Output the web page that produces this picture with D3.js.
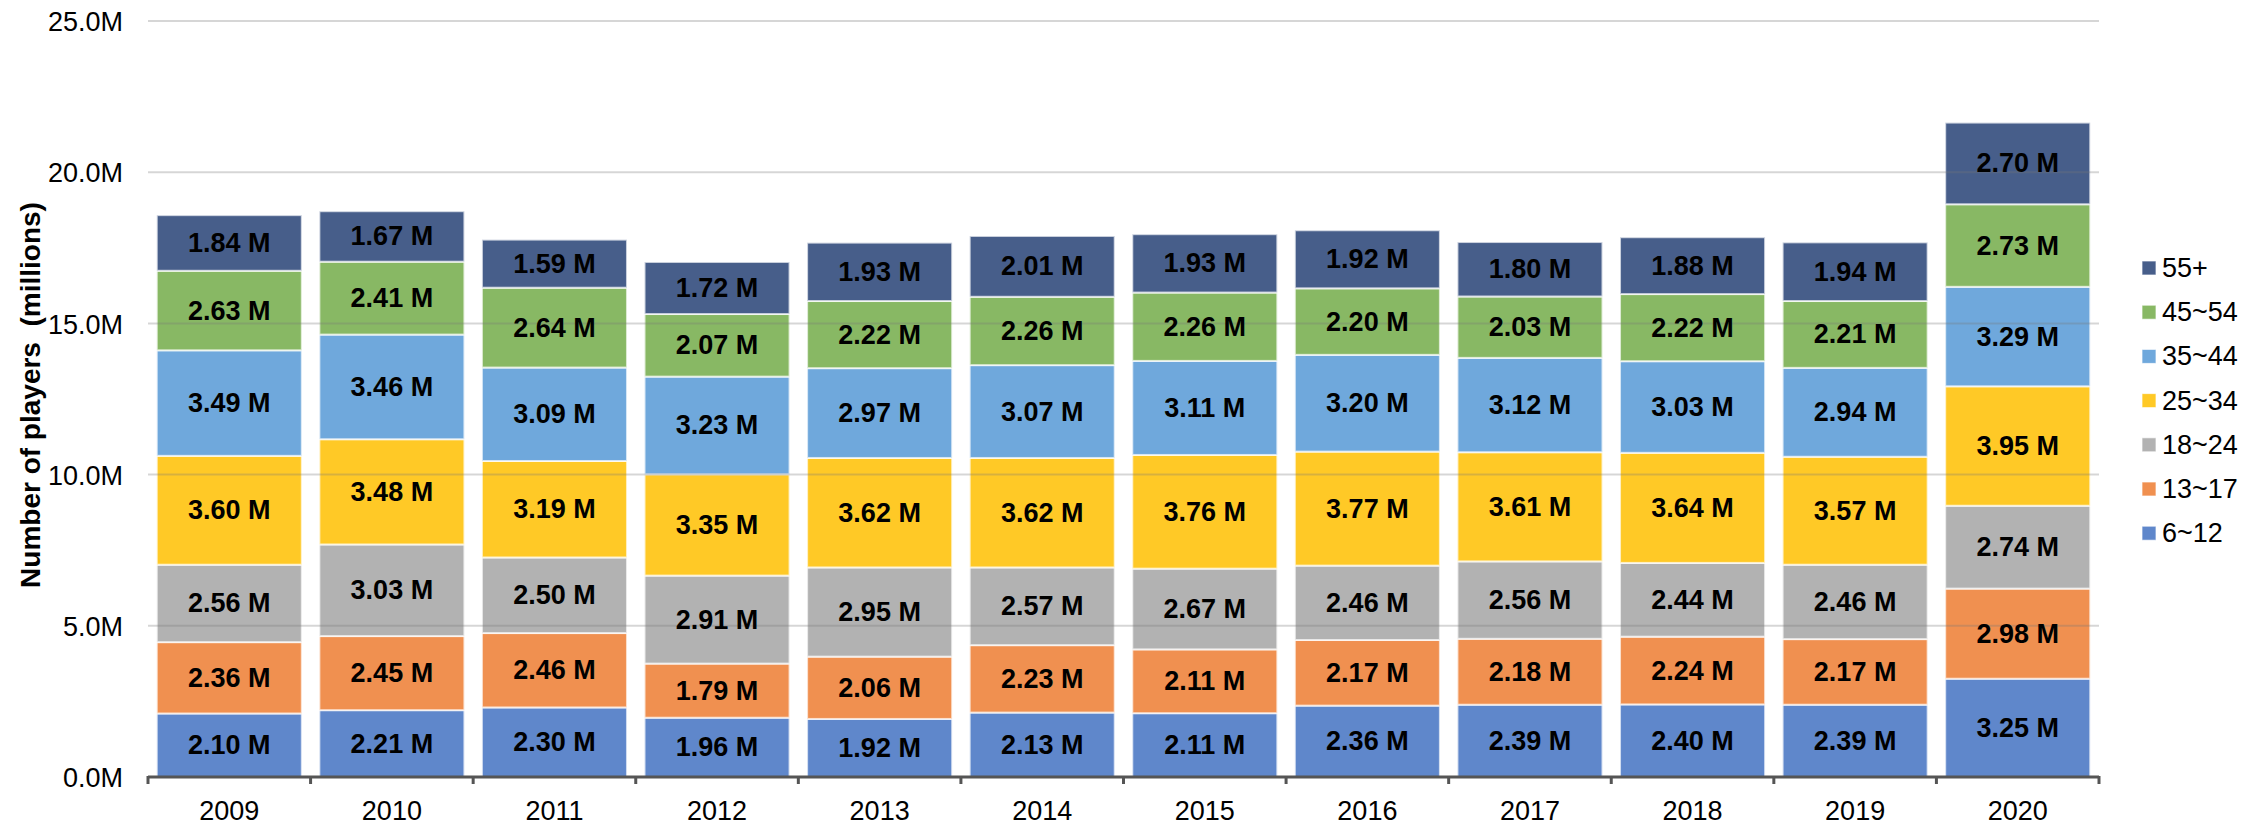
<!DOCTYPE html>
<html><head><meta charset="utf-8">
<script src="https://cdn.jsdelivr.net/npm/d3@7"></script>
<style>body{margin:0;background:#fff;} svg{display:block;font-family:"Liberation Sans",Arial,sans-serif;}</style>
</head><body>
<svg id="c" width="2267" height="825"></svg>
<script>
const years = ["2009","2010","2011","2012","2013","2014","2015","2016","2017","2018","2019","2020"];
const groups = ["6~12","13~17","18~24","25~34","35~44","45~54","55+"];
const colors = ["#5F87CB","#F09050","#B2B2B2","#FFC926","#6FA8DC","#88B864","#475E8A"];
const v6_12  = [2.10,2.21,2.30,1.96,1.92,2.13,2.11,2.36,2.39,2.40,2.39,3.25];
const v13_17 = [2.36,2.45,2.46,1.79,2.06,2.23,2.11,2.17,2.18,2.24,2.17,2.98];
const v18_24 = [2.56,3.03,2.50,2.91,2.95,2.57,2.67,2.46,2.56,2.44,2.46,2.74];
const v25_34 = [3.60,3.48,3.19,3.35,3.62,3.62,3.76,3.77,3.61,3.64,3.57,3.95];
const v35_44 = [3.49,3.46,3.09,3.23,2.97,3.07,3.11,3.20,3.12,3.03,2.94,3.29];
const v45_54 = [2.63,2.41,2.64,2.07,2.22,2.26,2.26,2.20,2.03,2.22,2.21,2.73];
const v55    = [1.84,1.67,1.59,1.72,1.93,2.01,1.93,1.92,1.80,1.88,1.94,2.70];
const yTicks = [0,5,10,15,20,25];

const series = [v6_12,v13_17,v18_24,v25_34,v35_44,v45_54,v55];
const rows = years.map((y,i)=>{const r={year:y}; groups.forEach((g,j)=>r[g]=series[j][i]); return r;});
const stacked = d3.stack().keys(groups)(rows);

const svg = d3.select("#c");
const x = d3.scaleBand().domain(years).range([148,2099]).paddingInner(0.108).paddingOuter(0.054);
const y = d3.scaleLinear().domain([0,25]).range([777,21]);

// bars
const layer = svg.append("g").selectAll("g").data(stacked).join("g").attr("fill",(d,i)=>colors[i]);
layer.selectAll("rect").data(d=>d).join("rect")
  .attr("x",d=>x(d.data.year)).attr("width",x.bandwidth())
  .attr("y",d=>y(d[1])).attr("height",d=>y(d[0])-y(d[1]))
  .attr("stroke","rgba(255,255,255,0.7)").attr("stroke-width",2);

// gridlines on top
svg.append("g").selectAll("line").data(yTicks.filter(t=>t>0)).join("line")
  .attr("x1",148).attr("x2",2099).attr("y1",d=>y(d)).attr("y2",d=>y(d))
  .attr("stroke","rgba(120,120,120,0.3)").attr("stroke-width",2);

// labels
stacked.forEach((s,i)=>{
  svg.append("g").selectAll("text").data(s).join("text")
    .attr("x",d=>x(d.data.year)+x.bandwidth()/2)
    .attr("y",d=>(y(d[0])+y(d[1]))/2)
    .attr("text-anchor","middle").attr("dominant-baseline","central")
    .attr("font-size",27).attr("font-weight","bold").attr("fill","#000")
    .text(d=>(d[1]-d[0]).toFixed(2)+" M");
});

// y axis labels
const ya = svg.append("g").attr("transform","translate(123,0)")
  .call(d3.axisLeft(y).tickValues(yTicks).tickSize(0).tickPadding(0).tickFormat(d=>d.toFixed(1)+"M"));
ya.select(".domain").remove();
ya.selectAll("text").attr("font-size",27).attr("fill","#000").attr("font-family","Liberation Sans, Arial, sans-serif").attr("dy","0.36em");

// x axis
const xa = svg.append("g").attr("transform","translate(0,777)")
  .call(d3.axisBottom(x).tickSize(0).tickPadding(24));
xa.select(".domain").attr("stroke","#555").attr("stroke-width",3).attr("d","M148,0H2099");
xa.selectAll("text").attr("font-size",27).attr("fill","#000").attr("font-family","Liberation Sans, Arial, sans-serif");
const bounds = years.map(yr=>x(yr)-x.step()*x.paddingInner()/2);
bounds.push(2099);
bounds[0]=148;
svg.append("g").selectAll("line").data(bounds).join("line")
  .attr("x1",d=>d).attr("x2",d=>d).attr("y1",776).attr("y2",784)
  .attr("stroke","#555").attr("stroke-width",3);

// y title
svg.append("text").attr("transform","translate(30,395) rotate(-90)")
  .attr("text-anchor","middle").attr("dominant-baseline","central")
  .attr("font-size",28).attr("font-weight","bold").attr("fill","#000")
  .attr("xml:space","preserve").style("white-space","pre")
  .text("Number of players  (millions)");

// legend
const lg = svg.append("g");
const legOrder = groups.slice().reverse();
legOrder.forEach((g,i)=>{
  const cy = 268 + i*44.2;
  lg.append("rect").attr("x",2142).attr("y",cy-7).attr("width",14).attr("height",14)
    .attr("fill",colors[groups.indexOf(g)]).attr("stroke","rgba(255,255,255,0.7)").attr("stroke-width",1);
  lg.append("text").attr("x",2162).attr("y",cy).attr("dominant-baseline","central")
    .attr("font-size",27).attr("fill","#000").text(g);
});
</script>
</body></html>
